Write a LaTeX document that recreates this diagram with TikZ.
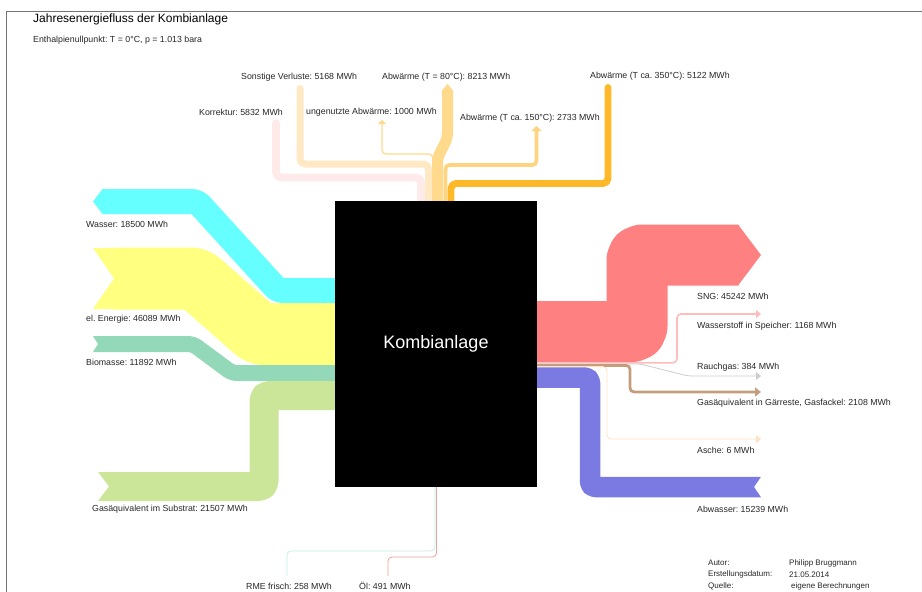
\documentclass[tikz,border=0pt]{standalone}
\usepackage{fontspec}
\setmainfont{Liberation Sans}
\usetikzlibrary{arrows.meta}
\frenchspacing

\definecolor{wasser}{RGB}{102,255,255}
\definecolor{strom}{RGB}{255,255,128}
\definecolor{bio}{RGB}{147,217,185}
\definecolor{substrat}{RGB}{204,230,153}
\definecolor{sng}{RGB}{255,128,128}
\definecolor{hzwei}{RGB}{255,188,188}
\definecolor{rauch}{RGB}{205,205,205}
\definecolor{gaer}{RGB}{196,158,124}
\definecolor{asche}{RGB}{255,226,194}
\definecolor{abwasser}{RGB}{122,122,226}
\definecolor{korr}{RGB}{255,234,234}
\definecolor{verl}{RGB}{255,232,196}
\definecolor{wachtzig}{RGB}{255,218,140}
\definecolor{whundert}{RGB}{255,212,128}
\definecolor{wdrei}{RGB}{255,185,40}
\definecolor{rme}{RGB}{196,238,228}
\definecolor{oel}{RGB}{236,160,160}

\begin{document}
\begin{tikzpicture}[x=1pt,y=-1pt,
	band/.style={line cap=butt,line join=round,rounded corners=5pt},
	thinflow/.style={line cap=butt,rounded corners=4pt},
	tip/.style={-{Triangle[length=5pt,width=8pt]}},
	lbl/.style={anchor=west,inner sep=0pt,text=black!85,font=\fontsize{8.8}{10}\selectfont},
	info/.style={anchor=west,inner sep=0pt,text=black!85,font=\fontsize{8}{9}\selectfont}]
	\useasboundingbox (0,0) rectangle (922,592);
	\draw[black!55,line width=1pt] (6,592) -- (6,11) -- (922,11);
	\node[anchor=west,inner sep=0pt,font=\fontsize{12}{14}\selectfont] (ti) at (33,19.5) {Jahresenergiefluss der Kombianlage};
	\node[lbl] (st) at (33,40) {Enthalpienullpunkt: T = 0°C, p = 1.013 bara};

	% inputs
	\draw[band,wasser,line width=25pt] (102,201.5) -- (197,201.5) -- (278,290.5) -- (336,290.5);
		\fill[wasser] (102.5,189) -- (93,201.5) -- (102.5,214) -- cycle;
	\draw[band,strom,line width=62pt] (114,278.5) -- (196,278.5) -- (259,334) -- (336,334);
		\fill[strom] (93,248) -- (114.5,248) -- (114.5,309) -- (93,309) -- (114,278.5) -- cycle;
	\draw[band,bio,line width=16pt] (98,344) -- (193,344) -- (232,373) -- (336,373);
		\fill[bio] (93,336) -- (98.5,336) -- (98.5,352) -- (93,352) -- (98,344) -- cycle;
	\draw[band,substrat,line width=29pt] (336,395.5) -- (264,395.5) -- (264,486.5) -- (109,486.5);
		\fill[substrat] (98,472) -- (109.5,472) -- (109.5,501) -- (98,501) -- (109,486.5) -- cycle;

	% outputs right
	\draw[band,sng,line width=61pt] (536,331.5) -- (637,331.5) -- (637,255) -- (738.5,255);
		\fill[sng] (738,224.5) -- (761,255) -- (738,285.5) -- cycle;
	\draw[thinflow,tip,hzwei,line width=1.6pt] (536,362.8) -- (677,362.8) -- (677,314) -- (761,314);
	\draw[thinflow,tip,rauch,line width=0.8pt] (536,363.9) -- (640,363.9) -- (688,376) -- (761,376);
	\draw[thinflow,gaer,line width=2.8pt,-{Triangle[length=6pt,width=9pt]}] (536,365.4) -- (630,365.4) -- (630,392) -- (761,392);
	\draw[thinflow,tip,asche,line width=0.8pt] (536,366.6) -- (607,366.6) -- (607,439) -- (761,439);
	\draw[band,abwasser,line width=20.5pt] (536,377.5) -- (590,377.5) -- (590,487) -- (754,487);
		\fill[abwasser] (753.5,476.75) -- (761,476.75) -- (754,487) -- (761,497.25) -- (753.5,497.25) -- cycle;

	% outputs top
	\draw[band,korr,line width=7.8pt,line cap=round] (421,202) -- (421,177.5) -- (276,177.5) -- (276,123);
	\draw[band,verl,line width=7pt,line cap=round] (428.5,202) -- (428.5,164) -- (300,164) -- (300,88.5);
	\draw[thinflow,wachtzig,line width=1.3pt,-{Triangle[length=4pt,width=8pt]}] (432.8,202) -- (432.8,154) -- (382,154) -- (382,120);
	\draw[band,wachtzig,line width=11pt] (437.5,202) -- (437.5,158) -- (447.5,138) -- (447.5,90);
		\fill[wachtzig] (442,90.5) -- (447.5,84) -- (453,90.5) -- cycle;
	\draw[thinflow,whundert,line width=3.7pt,-{Triangle[length=5pt,width=10pt]}] (445.5,202) -- (445.5,165) -- (536.5,165) -- (536.5,126);
	\draw[band,wdrei,line width=6.9pt,line cap=round] (451,202) -- (451,183.5) -- (608,183.5) -- (608,87.5);

	% inputs bottom
	\draw[thinflow,rme,line width=0.8pt] (435,486) -- (435,551) -- (287,551) -- (287,576);
	\draw[thinflow,oel,line width=0.8pt] (436.5,486) -- (436.5,557) -- (388,557) -- (388,576);

	\node[fill=black,minimum width=202pt,minimum height=286pt,inner sep=0pt,text=white,font=\fontsize{18}{20}\selectfont] (k) at (436,344) {Kombianlage};

	\node[lbl] (lsv) at (241,77) {Sonstige Verluste: 5168 MWh};
	\node[lbl] (lac) at (382,77) {Abwärme (T = 80°C): 8213 MWh};
	\node[lbl] (ldr) at (590,76) {Abwärme (T ca. 350°C): 5122 MWh};
	\node[lbl] (lko) at (199,112) {Korrektur: 5832 MWh};
	\node[lbl] (lun) at (306,112) {ungenutzte Abwärme: 1000 MWh};
	\node[lbl] (lhu) at (460,118) {Abwärme (T ca. 150°C): 2733 MWh};
	\node[lbl] (lwa) at (86,224) {Wasser: 18500 MWh};
	\node[lbl] (lel) at (86,319) {el. Energie: 46089 MWh};
	\node[lbl] (lbi) at (86,362) {Biomasse: 11892 MWh};
	\node[lbl] (lsu) at (92,509) {Gasäquivalent im Substrat: 21507 MWh};
	\node[lbl] (lsn) at (697,296) {SNG: 45242 MWh};
	\node[lbl] (lhz) at (697,326) {Wasserstoff in Speicher: 1168 MWh};
	\node[lbl] (lra) at (697,367) {Rauchgas: 384 MWh};
	\node[lbl] (lga) at (697,403) {Gasäquivalent in Gärreste, Gasfackel: 2108 MWh};
	\node[lbl] (las) at (697,450) {Asche: 6 MWh};
	\node[lbl] (lab) at (697,509) {Abwasser: 15239 MWh};
	\node[lbl] (lrm) at (246,586) {RME frisch: 258 MWh};
	\node[lbl] (loe) at (359,586) {Öl: 491 MWh};

	\node[info] (a1) at (708,563) {Autor:};
		\node[info] (a2) at (789,563) {Philipp Bruggmann};
	\node[info] (e1) at (708,574.5) {Erstellungsdatum:};
		\node[info] (e2) at (789,574.5) {21.05.2014};
	\node[info] (q1) at (708,586) {Quelle:};
		\node[info] (q2) at (791,586) {eigene Berechnungen};
\end{tikzpicture}
\end{document}
